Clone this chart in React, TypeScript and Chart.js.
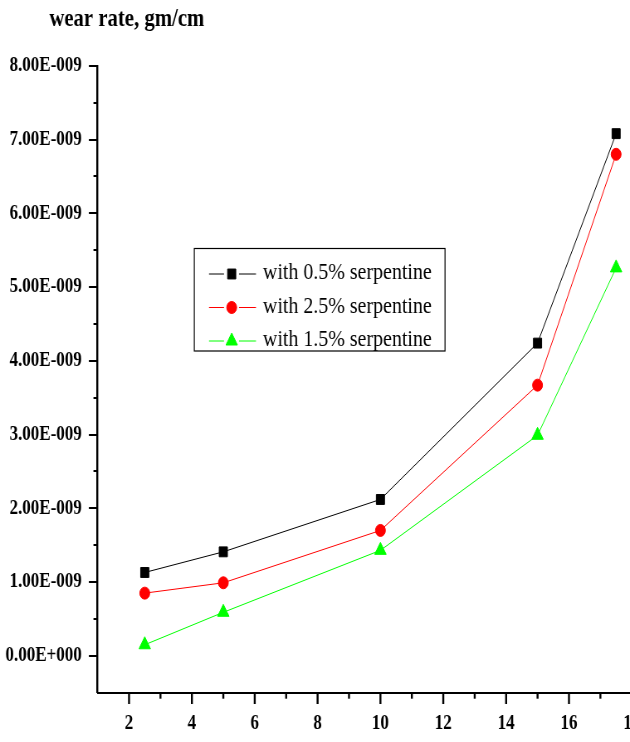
import React, { useEffect, useRef } from 'react';
import { Chart, registerables } from 'chart.js';
import { drawPoint } from 'chart.js/helpers';

Chart.register(...registerables);

// ---- data ----
const loadings = [2.5, 5, 10, 15, 17.5];
const series05 = [1.13e-9, 1.41e-9, 2.12e-9, 4.24e-9, 7.08e-9];
const series25 = [0.85e-9, 0.99e-9, 1.7e-9, 3.67e-9, 6.8e-9];
const series15 = [0.15e-9, 0.59e-9, 1.43e-9, 2.99e-9, 5.26e-9];
const seriesLabels = ['with 0.5% serpentine', 'with 2.5% serpentine', 'with 1.5% serpentine'];
const xTickValues = [2, 4, 6, 8, 10, 12, 14, 16, 18];
const xMinorTickValues = [3, 5, 7, 9, 11, 13, 15, 17];
const yTickValues = [0, 1e-9, 2e-9, 3e-9, 4e-9, 5e-9, 6e-9, 7e-9, 8e-9];
const yMinorTickValues = [0.5e-9, 1.5e-9, 2.5e-9, 3.5e-9, 4.5e-9, 5.5e-9, 6.5e-9, 7.5e-9];
const axisTitle = 'wear rate, gm/cm';

// ---- layout ----
const SX = 0.83;
const CANVAS_W = 830;
const CANVAS_H = 742;
const FONT = "'Liberation Serif', 'Times New Roman', serif";
const TICK_FONT_SIZE = 20.5;

function fmtExp(v: number): string {
  if (Math.abs(v) < 1e-20) return '0.00E+000';
  const e = Math.floor(Math.log10(Math.abs(v)) + 1e-9);
  const m = v / Math.pow(10, e);
  const sign = e < 0 ? '-' : '+';
  return `${m.toFixed(2)}E${sign}${String(Math.abs(e)).padStart(3, '0')}`;
}

const decorPlugin = {
  id: 'decor',
  afterDraw(chart: any) {
    const ctx = chart.ctx as CanvasRenderingContext2D;
    const { left, bottom } = chart.chartArea;
    const xs = chart.scales.x;
    const ys = chart.scales.y;
    ctx.save();
    ctx.strokeStyle = '#000';
    // y ticks
    ctx.lineWidth = 2;
    const yTick = (v: number, len: number) => {
      const y = Math.round(ys.getPixelForValue(v));
      ctx.beginPath();
      ctx.moveTo(left, y);
      ctx.lineTo(left - len, y);
      ctx.stroke();
    };
    yTickValues.forEach((v) => yTick(v, 10.5));
    yMinorTickValues.forEach((v) => yTick(v, 5));
    // x ticks
    ctx.lineWidth = 2.4;
    const xTick = (v: number, len: number) => {
      const x = xs.getPixelForValue(v);
      ctx.beginPath();
      ctx.moveTo(x, bottom);
      ctx.lineTo(x, bottom + len);
      ctx.stroke();
    };
    xTickValues.forEach((v) => xTick(v, 11.3));
    xMinorTickValues.forEach((v) => xTick(v, 6));

    // title
    ctx.fillStyle = '#000';
    ctx.font = `bold 25px ${FONT}`;
    ctx.textAlign = 'left';
    ctx.textBaseline = 'alphabetic';
    ctx.fillText(axisTitle, 59.4, 26);

    // legend
    const bx1 = 194.3 / SX, bx2 = 445 / SX, by1 = 248.5, by2 = 351;
    ctx.lineWidth = 1.2;
    ctx.strokeStyle = '#000';
    ctx.strokeRect(bx1, by1, bx2 - bx1, by2 - by1);
    const l1 = 209 / SX, l2 = 224 / SX, l3 = 239 / SX, l4 = 256 / SX;
    const mx = 231.7 / SX;
    const tx = 263 / SX;
    chart.data.datasets.forEach((ds: any, i: number) => {
      const ry = 274 + i * 33.5;
      ctx.strokeStyle = ds.borderColor;
      ctx.lineWidth = 1;
      ctx.beginPath();
      ctx.moveTo(l1, ry);
      ctx.lineTo(l2, ry);
      ctx.moveTo(l3, ry);
      ctx.lineTo(l4, ry);
      ctx.stroke();
      ctx.fillStyle = ds.pointBackgroundColor;
      ctx.strokeStyle = ds.pointBorderColor;
      drawPoint(ctx, { pointStyle: ds.pointStyle, radius: ds.pointRadius, rotation: 0, borderWidth: 1 } as any, mx, ry);
      ctx.fillStyle = '#000';
      ctx.font = `24px ${FONT}`;
      ctx.textAlign = 'left';
      ctx.textBaseline = 'middle';
      ctx.fillText(ds.label, tx, ry - 1);
    });
    ctx.restore();
  },
};

function mk(label: string, values: number[], color: string, style: string, radius: number) {
  return {
    label,
    data: loadings.map((x, i) => ({ x, y: values[i] })),
    borderColor: color,
    backgroundColor: color,
    pointBackgroundColor: color,
    pointBorderColor: color,
    pointBorderWidth: 1,
    pointStyle: style,
    pointRadius: radius,
    borderWidth: 1,
    tension: 0,
  };
}

export default function App() {
  const ref = useRef<HTMLCanvasElement>(null);
  useEffect(() => {
    if (!ref.current) return;
    const chart = new Chart(ref.current, {
      type: 'line',
      data: {
        datasets: [
          mk(seriesLabels[0], series05, '#000000', 'rect', 7),
          mk(seriesLabels[1], series25, '#ff0000', 'circle', 6),
          mk(seriesLabels[2], series15, '#00ff00', 'triangle', 8),
        ] as any,
      },
      options: {
        responsive: false,
        animation: false,
        devicePixelRatio: 1,
        layout: { padding: { top: 65.8, left: 0, right: CANVAS_W - (117.6 + 18 * 37.86), bottom: 0 } },
        plugins: { legend: { display: false }, tooltip: { enabled: false }, title: { display: false } },
        scales: {
          x: {
            type: 'linear',
            min: 1,
            max: 19,
            afterFit: (s: any) => { s.height = CANVAS_H - 692.7; },
            afterBuildTicks: (s: any) => { s.ticks = xTickValues.map((v) => ({ value: v })); },
            grid: { drawOnChartArea: false, drawTicks: true, tickLength: 10, tickColor: 'rgba(0,0,0,0)' },
            border: { display: true, color: '#000', width: 2 },
            ticks: {
              autoSkip: false,
              maxRotation: 0,
              padding: 8.5,
              color: '#000',
              font: { family: FONT, size: TICK_FONT_SIZE, weight: 'bold' },
              callback: (v: any) => String(v),
            },
          },
          y: {
            type: 'linear',
            min: -0.5e-9,
            max: 8e-9,
            afterFit: (s: any) => { s.width = 117.6; },
            afterBuildTicks: (s: any) => { s.ticks = yTickValues.map((v) => ({ value: v })); },
            grid: { drawOnChartArea: false, drawTicks: true, tickLength: 10.5, tickColor: 'rgba(0,0,0,0)' },
            border: { display: true, color: '#000', width: 2.4 },
            ticks: {
              autoSkip: false,
              padding: 8.6,
              color: '#000',
              font: { family: FONT, size: TICK_FONT_SIZE, weight: 'bold' },
              callback: (v: any) => fmtExp(Number(v)),
            },
          },
        },
      } as any,
      plugins: [decorPlugin],
    });
    return () => chart.destroy();
  }, []);

  return (
    <div style={{ position: 'absolute', left: 0, top: 0, width: 630, height: 742, overflow: 'hidden', background: '#fff' }}>
      <div style={{ width: CANVAS_W, height: CANVAS_H, transform: `scaleX(${SX})`, transformOrigin: '0 0' }}>
        <canvas ref={ref} width={CANVAS_W} height={CANVAS_H} style={{ display: 'block', width: CANVAS_W, height: CANVAS_H }} />
      </div>
    </div>
  );
}
